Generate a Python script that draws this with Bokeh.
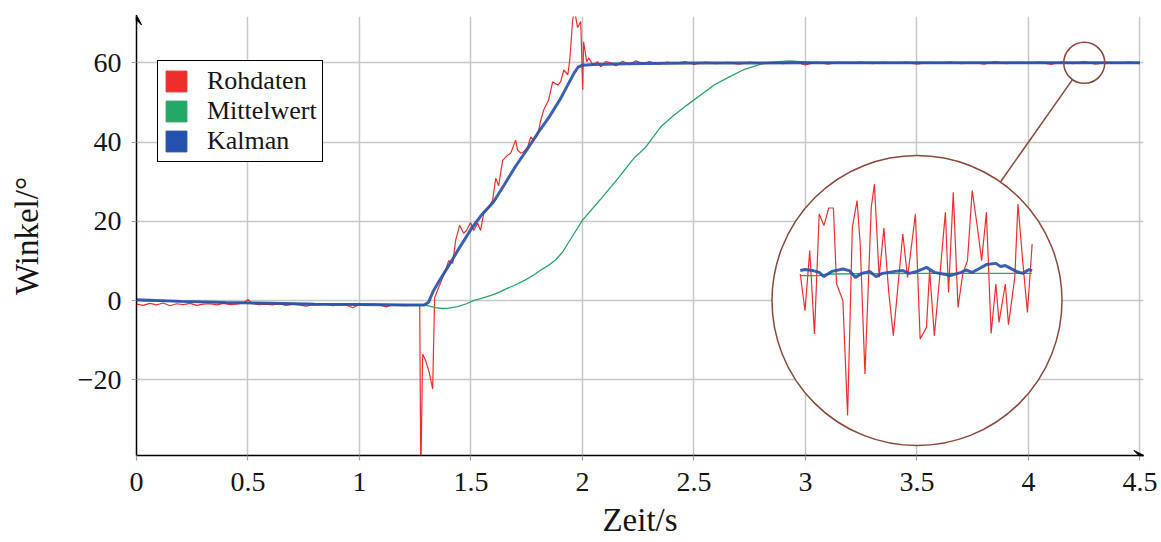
import math
from bokeh.plotting import figure
from bokeh.models import Range1d, FixedTicker, Legend, LegendItem, Arrow, VeeHead
from bokeh.embed import file_html
from bokeh.resources import INLINE

# ---------------- data ----------------
series_names = ["Rohdaten", "Mittelwert", "Kalman"]
x_ticks = [0, 0.5, 1, 1.5, 2, 2.5, 3, 3.5, 4, 4.5]
x_tick_labels = ["0", "0.5", "1", "1.5", "2", "2.5", "3", "3.5", "4", "4.5"]
y_ticks = [-20, 0, 20, 40, 60]
y_tick_labels = ["\u221220", "0", "20", "40", "60"]
x_label = "Zeit/s"
y_label = "Winkel/°"

# raw data (Rohdaten), three stretches
raw_t_rest = [0.00, 0.03, 0.06, 0.09, 0.12, 0.15, 0.18, 0.21, 0.24, 0.27, 0.30, 0.33, 0.36, 0.39, 0.42,
              0.45, 0.48, 0.50, 0.52, 0.55, 0.58, 0.61, 0.64, 0.67, 0.70, 0.73, 0.76, 0.79, 0.82, 0.85,
              0.88, 0.91, 0.94, 0.97, 1.00, 1.03, 1.06, 1.09, 1.12, 1.15, 1.18, 1.21, 1.24, 1.26]
raw_deg_rest = [-0.9, -1.2, -0.7, -1.1, -0.6, -1.3, -0.8, -1.0, -0.7, -1.2, -0.9, -0.8, -1.1, -0.7, -1.0,
                -0.9, -0.6, 0.3, -0.8, -1.0, -0.9, -1.1, -0.8, -1.2, -0.9, -1.1, -1.4, -1.0, -1.1, -0.9,
                -1.3, -1.0, -1.1, -1.8, -1.0, -1.2, -0.9, -1.1, -1.6, -1.0, -1.2, -1.3, -1.0, -1.1]
raw_t_move = [1.270, 1.275, 1.283, 1.297, 1.312, 1.328, 1.337, 1.341, 1.355, 1.373, 1.386, 1.400, 1.418,
              1.431, 1.449, 1.467, 1.480, 1.498, 1.512, 1.530, 1.543, 1.557, 1.579, 1.597, 1.611, 1.624,
              1.642, 1.664, 1.678, 1.700, 1.709, 1.723, 1.736, 1.754, 1.768, 1.781, 1.799, 1.813, 1.826,
              1.848, 1.866, 1.889, 1.902, 1.916, 1.934, 1.943, 1.956, 1.965, 1.978, 1.992, 2.001, 2.005,
              2.019, 2.028, 2.046, 2.068, 2.082, 2.104, 2.127]
raw_deg_move = [-1.2, -45.0, -13.5, -15.2, -18.0, -22.3, 0.8, 1.3, 3.3, 5.8, 7.6, 10.1, 9.4,
                15.2, 19.0, 17.0, 17.7, 19.7, 17.7, 19.5, 17.7, 22.0, 23.5, 25.3, 30.9, 29.0,
                35.4, 36.7, 37.2, 40.5, 38.0, 37.2, 37.5, 38.7, 41.3, 40.5, 41.8, 45.6, 48.1,
                50.6, 55.2, 54.4, 55.2, 58.2, 57.0, 60.8, 70.9, 73.0, 68.9, 70.4, 53.2, 65.3,
                60.3, 61.3, 59.5, 60.3, 59.0, 60.3, 60.0]
raw_t_hold = [2.15, 2.18, 2.21, 2.24, 2.27, 2.30, 2.34, 2.38, 2.42, 2.46, 2.50, 2.55, 2.60, 2.65, 2.70,
              2.75, 2.80, 2.85, 2.90, 2.95, 3.00, 3.05, 3.10, 3.15, 3.20, 3.25, 3.30, 3.35, 3.40, 3.45,
              3.50, 3.55, 3.60, 3.65, 3.70, 3.75, 3.80, 3.85, 3.90, 3.95, 4.00, 4.05, 4.10, 4.15, 4.20,
              4.25, 4.30, 4.35, 4.40, 4.45, 4.50]
raw_deg_hold = [59.3, 60.4, 59.6, 60.5, 59.8, 60.3, 59.7, 60.2, 59.9, 60.3, 59.6, 60.2, 59.8, 60.1, 59.7,
                60.2, 59.9, 60.1, 59.8, 60.3, 59.5, 60.2, 59.7, 60.1, 59.9, 60.2, 59.8, 60.1, 59.9, 60.2,
                59.7, 60.1, 59.9, 60.2, 59.8, 60.1, 59.7, 60.3, 59.8, 60.1, 59.9, 60.2, 59.6, 60.2, 59.8,
                60.3, 59.7, 60.1, 59.9, 60.2, 59.8]
raw_t = raw_t_rest + raw_t_move + raw_t_hold
raw_deg = raw_deg_rest + raw_deg_move + raw_deg_hold

# moving average (Mittelwert)
mean_t = [0.00, 0.40, 0.80, 1.20, 1.30, 1.34, 1.37, 1.40, 1.44, 1.48, 1.51, 1.55, 1.59, 1.63, 1.66,
          1.70, 1.74, 1.78, 1.81, 1.85, 1.88, 1.91, 1.95, 2.00, 2.08, 2.16, 2.23, 2.28, 2.32, 2.35,
          2.41, 2.47, 2.53, 2.59, 2.65, 2.72, 2.80, 2.88, 2.93, 2.98, 3.05, 3.50, 4.00, 4.50]
mean_deg = [0.0, -0.5, -0.8, -1.0, -1.2, -1.8, -2.0, -1.9, -1.5, -0.8, 0.0, 0.6, 1.3, 2.2, 3.0,
            4.0, 5.1, 6.4, 7.6, 9.0, 10.3, 12.2, 15.8, 20.3, 25.5, 30.9, 35.9, 38.5, 41.5, 43.8,
            46.8, 49.4, 51.9, 54.4, 56.2, 58.2, 59.7, 60.3, 60.5, 60.3, 60.0, 60.0, 60.0, 60.0]

# Kalman filter
kalman_t = [0.00, 0.20, 0.40, 0.60, 0.80, 1.00, 1.20, 1.29, 1.31, 1.33, 1.36, 1.40, 1.45, 1.50, 1.55,
            1.60, 1.65, 1.70, 1.75, 1.80, 1.85, 1.90, 1.93, 1.96, 1.98, 2.00, 2.05, 2.20, 2.50, 3.00,
            3.50, 4.00, 4.50]
kalman_deg = [0.2, -0.2, -0.5, -0.7, -0.9, -1.0, -1.1, -1.1, -0.4, 2.3, 5.2, 8.8, 13.5, 18.0, 21.8,
              24.8, 29.3, 33.9, 38.0, 42.3, 46.3, 50.8, 54.0, 57.2, 58.9, 59.4, 59.6, 59.8, 59.95, 60.0,
              60.0, 60.0, 60.0]

# magnified detail (inside the circle)
zoom_raw_t = [4.176, 4.179, 4.182, 4.185, 4.188, 4.191, 4.194, 4.197, 4.199, 4.203, 4.206, 4.209, 4.212,
              4.214, 4.217, 4.221, 4.223, 4.226, 4.229, 4.232, 4.235, 4.241, 4.244, 4.249, 4.252, 4.256,
              4.258, 4.261, 4.264, 4.268, 4.270, 4.273, 4.276, 4.279, 4.282, 4.285, 4.288, 4.291, 4.294,
              4.297, 4.300, 4.302, 4.306, 4.308, 4.312, 4.314, 4.317, 4.320, 4.323]
zoom_raw_deg = [60.000, 59.817, 60.117, 59.700, 60.300, 60.242, 60.330, 60.330, 59.950, 59.867, 59.292,
                60.233, 60.367, 60.150, 59.500, 60.333, 60.450, 59.983, 60.230, 59.917, 59.692, 60.200,
                59.983, 60.300, 59.675, 59.733, 60.017, 59.692, 59.950, 60.308, 59.908, 60.408, 59.833,
                60.000, 60.067, 60.417, 60.250, 60.067, 60.308, 59.703, 59.950, 59.758, 59.950, 59.747,
                59.983, 60.350, 60.067, 59.808, 60.150]
zoom_kalman_t = [4.176, 4.179, 4.184, 4.188, 4.191, 4.196, 4.203, 4.207, 4.211, 4.215, 4.220, 4.224,
                 4.228, 4.236, 4.241, 4.245, 4.250, 4.256, 4.261, 4.268, 4.271, 4.278, 4.281, 4.285,
                 4.289, 4.294, 4.300, 4.303, 4.306, 4.313, 4.317, 4.321, 4.323]
zoom_kalman_deg = [60.017, 60.022, 60.017, 60.008, 59.987, 60.013, 60.025, 60.017, 59.983, 60.003,
                   60.013, 59.987, 60.003, 60.013, 60.017, 60.003, 60.013, 60.033, 60.008, 59.997,
                   59.992, 60.008, 60.020, 60.008, 60.025, 60.047, 60.053, 60.037, 60.042, 60.013,
                   60.003, 60.022, 60.017]
zoom_mean_t = [4.176, 4.188, 4.193, 4.220, 4.260, 4.323]
zoom_mean_deg = [59.992, 59.992, 60.000, 60.002, 60.003, 60.003]

# ---------------- layout / style ----------------
RED, GREEN, BLUE = "#ee2e2a", "#24a865", "#2650ad"
BROWN = "#8c4838"
GRID = "#c8c8c8"
TEXT = "#151515"
FONT = "Liberation Serif"

FW, FH = 1007, 439
X0, X1 = 0.0, 4.5157
Y0, Y1 = -39.1, 71.7
SX = FW / (X1 - X0)
SY = FH / (Y1 - Y0)

INSET_C = (3.5, 0.0)      # centre of the magnifier (main coordinates)
INSET_R = 145             # px
SPY_C = (4.25, 60.0)      # spot that is magnified
SPY_R = 20.5              # px
INSET_PX_PER_S = SX * INSET_R / SPY_R
INSET_PX_PER_DEG = 200.0
INSET_Y_MID = 59.867

cx = (INSET_C[0] - X0) * SX
cy = (INSET_C[1] - Y0) * SY
ix0 = SPY_C[0] - cx / INSET_PX_PER_S
ix1 = ix0 + FW / INSET_PX_PER_S
iy0 = INSET_Y_MID - cy / INSET_PX_PER_DEG
iy1 = iy0 + FH / INSET_PX_PER_DEG

p = figure(frame_width=FW, frame_height=FH,
           x_range=Range1d(X0, X1), y_range=Range1d(Y0, Y1),
           output_backend="svg", toolbar_location=None,
           min_border_left=136, min_border_right=18, min_border_top=16, min_border_bottom=87)
p.extra_x_ranges = {"ix": Range1d(ix0, ix1)}
p.extra_y_ranges = {"iy": Range1d(iy0, iy1)}
p.outline_line_color = None
p.background_fill_color = "white"
p.border_fill_color = "white"

p.xaxis.ticker = FixedTicker(ticks=x_ticks)
p.yaxis.ticker = FixedTicker(ticks=y_ticks)
p.xaxis.major_label_overrides = dict(zip(x_ticks, x_tick_labels))
p.yaxis.major_label_overrides = dict(zip(y_ticks, y_tick_labels))
p.xaxis.axis_label = x_label
p.yaxis.axis_label = y_label
for ax in (p.xaxis[0], p.yaxis[0]):
    ax.axis_line_color = "black"
    ax.axis_line_width = 1.5
    ax.major_tick_line_color = "#a0a0a0"
    ax.major_tick_line_width = 1.2
    ax.major_tick_out = 5
    ax.major_tick_in = 0
    ax.minor_tick_line_color = None
    ax.major_label_text_font = FONT
    ax.major_label_text_font_size = "28px"
    ax.major_label_text_color = TEXT
    ax.axis_label_text_font = FONT
    ax.axis_label_text_font_size = "33px"
    ax.axis_label_text_font_style = "normal"
    ax.axis_label_text_color = TEXT
p.xaxis.major_label_standoff = 12
p.xaxis.axis_label_standoff = 8
p.yaxis.major_label_standoff = 10
p.yaxis.axis_label_standoff = 30

p.grid.grid_line_color = GRID
p.grid.grid_line_width = 1.5

# main curves
p.line(raw_t, raw_deg, line_color=RED, line_width=1.2)
p.line(mean_t, mean_deg, line_color=GREEN, line_width=1.3)
p.line(kalman_t, kalman_deg, line_color=BLUE, line_width=3, line_alpha=0.9)

# magnifier
p.scatter([INSET_C[0]], [INSET_C[1]], size=2 * INSET_R, marker="circle",
          fill_color="white", line_color=BROWN, line_width=1.5)
p.line(zoom_raw_t, zoom_raw_deg, x_range_name="ix", y_range_name="iy", line_color=RED, line_width=1.2)
p.line(zoom_mean_t, zoom_mean_deg, x_range_name="ix", y_range_name="iy", line_color=GREEN, line_width=1.3)
p.line(zoom_kalman_t, zoom_kalman_deg, x_range_name="ix", y_range_name="iy",
       line_color=BLUE, line_width=3, line_alpha=0.9)
p.scatter([SPY_C[0]], [SPY_C[1]], size=2 * SPY_R, marker="circle",
          fill_color=None, line_color=BROWN, line_width=1.5)
dxp = (SPY_C[0] - INSET_C[0]) * SX
dyp = (SPY_C[1] - INSET_C[1]) * SY
dist = math.hypot(dxp, dyp)
ux, uy = dxp / dist, dyp / dist
p.segment(x0=[INSET_C[0] + INSET_R * ux / SX], y0=[INSET_C[1] + INSET_R * uy / SY],
          x1=[SPY_C[0] - SPY_R * ux / SX], y1=[SPY_C[1] - SPY_R * uy / SY],
          line_color=BROWN, line_width=1.5)

# axis arrows
p.add_layout(Arrow(end=VeeHead(size=10, fill_color="black", line_color="black", line_width=1),
                   x_start=X0, y_start=Y1 - 2, x_end=X0, y_end=Y1 + 0.4,
                   line_color="black", line_width=1.5))
p.add_layout(Arrow(end=VeeHead(size=10, fill_color="black", line_color="black", line_width=1),
                   x_start=X1 - 0.02, y_start=Y0, x_end=X1 + 0.002, y_end=Y0,
                   line_color="black", line_width=1.5))

# legend with square swatches (swatch renderers hold no visible point)
nan = float("nan")
swatches = [p.quad(left=[nan], right=[nan], top=[nan], bottom=[nan], fill_color=c, line_color=c)
            for c in (RED, GREEN, BLUE)]
legend = Legend(items=[LegendItem(label=n, renderers=[r]) for n, r in zip(series_names, swatches)],
                location=(21, 293), orientation="vertical",
                border_line_color="black", border_line_width=1.5, border_line_alpha=1,
                background_fill_color="white", background_fill_alpha=1,
                padding=5, spacing=0, margin=0,
                glyph_width=26, glyph_height=26, label_height=26, label_standoff=18,
                label_text_font=FONT, label_text_font_size="26px", label_text_color=TEXT)
p.add_layout(legend)

open("out.html", "w").write(file_html(p, INLINE))
